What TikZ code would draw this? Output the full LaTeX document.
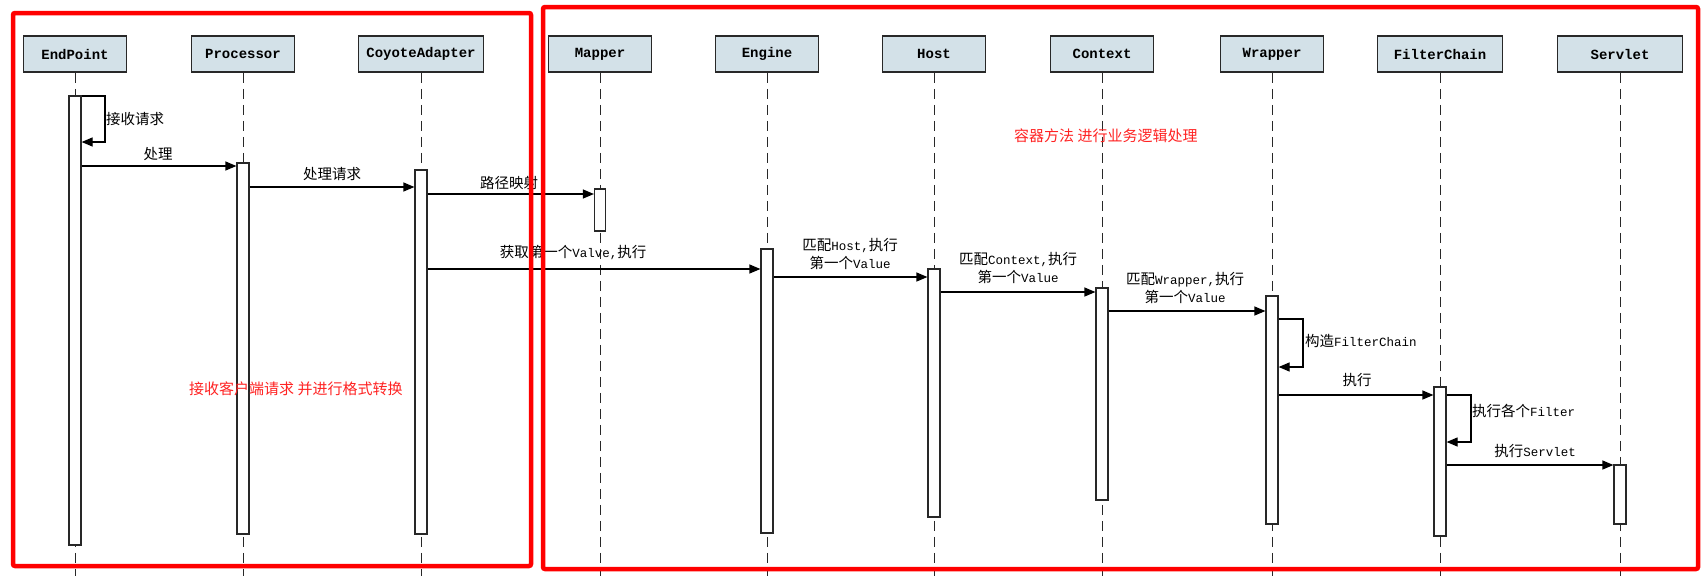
\documentclass[tikz,border=0pt]{standalone}
\usepackage{fontspec}
\usetikzlibrary{arrows.meta}
\newfontfamily\cjkf{Noto Sans CJK SC}
\newfontfamily\monof{Liberation Mono}
\newcommand\zhs[1]{{\cjkf\fontsize{14.5}{18}\selectfont #1}}
\newcommand\ens[1]{{\monof\fontsize{12.5}{18}\selectfont #1}}
\definecolor{boxfill}{RGB}{211,225,232}
\definecolor{boxline}{RGB}{40,40,40}
\definecolor{framered}{RGB}{255,0,0}
\definecolor{notered}{RGB}{255,35,35}
\begin{document}
\begin{tikzpicture}[x=1pt,y=-1pt,
  hdr/.style={draw=boxline, fill=boxfill, line width=1.5pt, minimum height=36pt,
    inner sep=0pt, font=\monof\bfseries\fontsize{14}{16}\selectfont},
  life/.style={draw=boxline, line width=1pt, dash pattern=on 10pt off 6pt},
  act/.style={draw=boxline, fill=white, line width=1.2pt, minimum width=12pt, inner sep=0pt},
  msg/.style={draw=black, line width=1.2pt, -{Triangle[length=11pt,width=9pt]}},
  lbl/.style={inner sep=0pt, align=center, font=\fontsize{14.5}{18}\selectfont},
  redframe/.style={draw=framered, line width=4.5pt, rounded corners=2pt},
  rednote/.style={text=notered, inner sep=0pt, anchor=west, font=\cjkf\fontsize{15}{17}\selectfont}]

\useasboundingbox (0,0) rectangle (1704,576);
\fill[white] (0,0) rectangle (1704,576);

% headers
\node[hdr, minimum width=103pt] (ep) at (75,54) {EndPoint};
\node[hdr, minimum width=103pt] (pr) at (243,54) {Processor};
\node[hdr, minimum width=125pt] (ca) at (421,54) {CoyoteAdapter};
\node[hdr, minimum width=103pt] (mp) at (600,54) {Mapper};
\node[hdr, minimum width=103pt] (en) at (767,54) {Engine};
\node[hdr, minimum width=103pt] (ho) at (934,54) {Host};
\node[hdr, minimum width=103pt] (cx) at (1102,54) {Context};
\node[hdr, minimum width=103pt] (wr) at (1272,54) {Wrapper};
\node[hdr, minimum width=125pt] (fc) at (1440,54) {FilterChain};
\node[hdr, minimum width=125pt] (sv) at (1620,54) {Servlet};

% lifelines
\foreach \n in {ep,pr,ca,mp,en,ho,cx,wr,fc,sv}
  \draw[life] (\n.south) -- (\n.south |- 0,576);

% activations
\node[act, minimum height=449pt] (epA) at (75,320.5) {};
\node[act, minimum height=371pt] (prA) at (243,348.5) {};
\node[act, minimum height=364pt] (caA) at (421,352) {};
\node[act, minimum height=42pt, minimum width=11pt] (mpA) at (600,210) {};
\node[act, minimum height=284pt] (enA) at (767,391) {};
\node[act, minimum height=248pt] (hoA) at (934,393) {};
\node[act, minimum height=212pt] (cxA) at (1102,394) {};
\node[act, minimum height=228pt] (wrA) at (1272,410) {};
\node[act, minimum height=149pt] (fcA) at (1440,461.5) {};
\node[act, minimum height=59pt] (svA) at (1620,494.5) {};

% messages
\draw[msg] (epA.east |- 0,96) -- (105,96) -- (105,142) -- (epA.east |- 0,142);
\draw[msg] (epA.east |- 0,166) -- (prA.west |- 0,166);
\draw[msg] (prA.east |- 0,187) -- (caA.west |- 0,187);
\draw[msg] (caA.east |- 0,194) -- (mpA.west |- 0,194);
\draw[msg] (caA.east |- 0,269) -- (enA.west |- 0,269);
\draw[msg] (enA.east |- 0,277) -- (hoA.west |- 0,277);
\draw[msg] (hoA.east |- 0,292) -- (cxA.west |- 0,292);
\draw[msg] (cxA.east |- 0,311) -- (wrA.west |- 0,311);
\draw[msg] (wrA.east |- 0,319) -- (1303,319) -- (1303,367) -- (wrA.east |- 0,367);
\draw[msg] (wrA.east |- 0,395) -- (fcA.west |- 0,395);
\draw[msg] (fcA.east |- 0,395) -- (1471,395) -- (1471,442) -- (fcA.east |- 0,442);
\draw[msg] (fcA.east |- 0,465) -- (svA.west |- 0,465);

% labels
\node[lbl, anchor=west] (t1) at (106,119) {\zhs{接收请求}};
\node[lbl] (t2) at (158,154) {\zhs{处理}};
\node[lbl] (t3) at (332,174) {\zhs{处理请求}};
\node[lbl] (t4) at (509,183) {\zhs{路径映射}};
\node[lbl] (t5) at (573,252) {\zhs{获取第一个}\ens{Valve,}\zhs{执行}};
\node[lbl] (t6) at (850,254) {\zhs{匹配}\ens{Host,}\zhs{执行}\\\zhs{第一个}\ens{Value}};
\node[lbl] (t7) at (1018,268) {\zhs{匹配}\ens{Context,}\zhs{执行}\\\zhs{第一个}\ens{Value}};
\node[lbl] (t8) at (1185,288) {\zhs{匹配}\ens{Wrapper,}\zhs{执行}\\\zhs{第一个}\ens{Value}};
\node[lbl, anchor=west] (t9) at (1305,341) {\zhs{构造}\ens{FilterChain}};
\node[lbl] (t10) at (1357,380) {\zhs{执行}};
\node[lbl, anchor=west] (t11) at (1472,411) {\zhs{执行各个}\ens{Filter}};
\node[lbl] (t12) at (1535,451) {\zhs{执行}\ens{Servlet}};

% red notes
\node[rednote] (n1) at (1014,136) {容器方法 进行业务逻辑处理};
\node[rednote] (n2) at (189,389) {接收客户端请求 并进行格式转换};

% red frames
\draw[redframe] (13,13) rectangle (531,566);
\draw[redframe] (543,7) rectangle (1698,569);
\end{tikzpicture}
\end{document}
